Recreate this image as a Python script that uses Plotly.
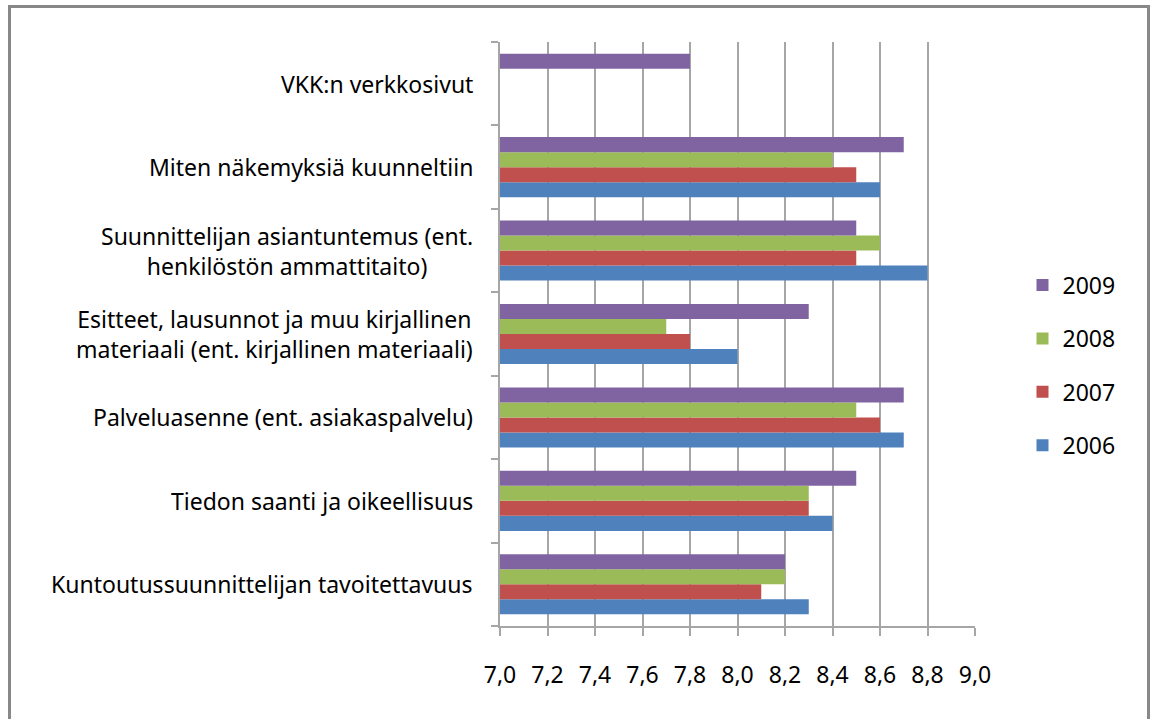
import plotly.graph_objects as go

categories = [
    "Kuntoutussuunnittelijan tavoitettavuus",
    "Tiedon saanti ja oikeellisuus",
    "Palveluasenne (ent. asiakaspalvelu)",
    "Esitteet, lausunnot ja muu kirjallinen<br>materiaali (ent. kirjallinen materiaali)",
    "Suunnittelijan asiantuntemus (ent.<br>henkilöstön ammattitaito)",
    "Miten näkemyksiä kuunneltiin",
    "VKK:n verkkosivut",
]
years = ["2006", "2007", "2008", "2009"]
v2006 = [8.3, 8.4, 8.7, 8.0, 8.8, 8.6, None]
v2007 = [8.1, 8.3, 8.6, 7.8, 8.5, 8.5, None]
v2008 = [8.2, 8.3, 8.5, 7.7, 8.6, 8.4, None]
v2009 = [8.2, 8.5, 8.7, 8.3, 8.5, 8.7, 7.8]
series = [v2006, v2007, v2008, v2009]
colors = ["#4F81BD", "#C0504D", "#9BBB59", "#8064A2"]
xticks = [7.0, 7.2, 7.4, 7.6, 7.8, 8.0, 8.2, 8.4, 8.6, 8.8, 9.0]
xticklabels = [f"{t:.1f}".replace(".", ",") for t in xticks]

FONT = "Noto Sans"
FS = 23
W, H = 1155, 719
L, R, T, B = 500, 975, 42, 626
GRID = "#A6A6A6"

fig = go.Figure()
for i, (yr, vals, col) in enumerate(zip(years, series, colors)):
    fig.add_trace(go.Bar(
        y=categories, x=vals, name=yr, orientation="h",
        marker=dict(color=col, line=dict(width=0)),
        legendgroup=yr, legendrank=len(years) - i,
    ))

fig.update_layout(
    width=W, height=H,
    margin=dict(l=L, r=W - R, t=T, b=H - B, autoexpand=False),
    paper_bgcolor="white", plot_bgcolor="white",
    barmode="group", bargap=0.28, bargroupgap=0,
    font=dict(family=FONT, size=FS, color="#000000"),
    showlegend=True,
    legend=dict(
        x=1.10, y=0.446, xanchor="left", yanchor="middle",
        tracegroupgap=20.5,
        font=dict(family=FONT, size=FS, color="#000000"),
        itemwidth=30, bgcolor="rgba(0,0,0,0)",
    ),
)
fig.update_xaxes(
    range=[7.0, 9.0], tickvals=xticks, ticktext=xticklabels,
    showgrid=True, gridcolor=GRID, gridwidth=1.5,
    showline=True, linecolor=GRID, linewidth=1.5,
    ticks="outside", ticklen=8, tickcolor=GRID, tickwidth=1.5,
    ticklabelstandoff=20, zeroline=False,
    tickfont=dict(family=FONT, size=FS, color="#000000"),
)
fig.update_yaxes(
    type="category", categoryorder="array", categoryarray=categories,
    showline=True, linecolor=GRID, linewidth=1.5,
    ticks="outside", ticklen=7, tickcolor=GRID, tickwidth=1.5,
    tickson="boundaries", showticklabels=False, showgrid=False,
)
for c in categories:
    fig.add_annotation(
        xref="paper", yref="y", x=0, y=c, xshift=-25,
        xanchor="right", yanchor="middle", align="center",
        text=c, showarrow=False,
        font=dict(family=FONT, size=FS, color="#000000"),
    )

pw, ph = R - L, B - T
fig.add_shape(
    type="rect", xref="paper", yref="paper",
    x0=(9.5 - L) / pw, x1=(1148.5 - L) / pw,
    y0=(B - 730) / ph, y1=(B - 6.5) / ph,
    line=dict(color="#888888", width=3), fillcolor="rgba(0,0,0,0)",
    layer="below",
)

fig.write_html(
    "out.html",
    config={"displayModeBar": False},
    post_script="document.body.style.margin='0px';",
)
